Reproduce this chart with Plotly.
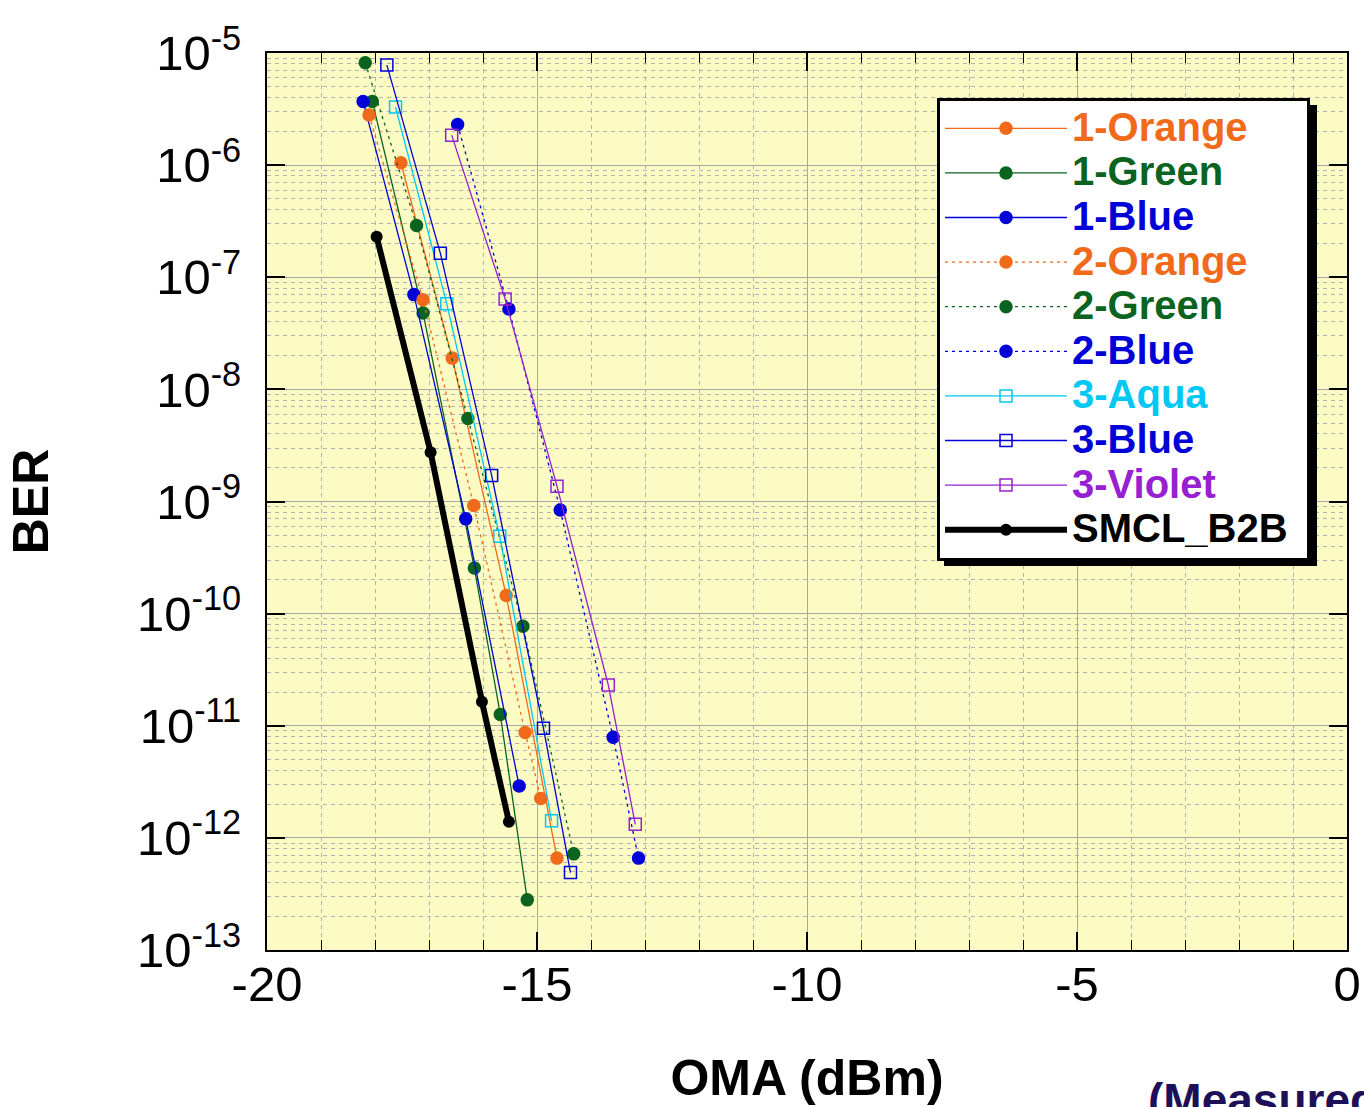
import plotly.graph_objects as go

# ---------------- data ----------------
orange1_x = [-17.52, -16.57, -15.57, -14.63]
orange1_y = [1.05e-6, 1.9e-8, 1.45e-10, 6.6e-13]
green1_x = [-18.05, -17.11, -16.16, -15.68, -15.18]
green1_y = [3.7e-6, 4.8e-8, 2.55e-10, 1.26e-11, 2.8e-13]
blue1_x = [-18.22, -17.28, -16.32, -15.33]
blue1_y = [3.7e-6, 7.0e-8, 7.0e-10, 2.9e-12]
orange2_x = [-18.11, -17.11, -16.17, -15.22, -14.93]
orange2_y = [2.8e-6, 6.3e-8, 9.2e-10, 8.7e-12, 2.25e-12]
green2_x = [-18.18, -17.23, -16.28, -15.26, -14.32]
green2_y = [8.2e-6, 2.9e-7, 5.5e-9, 7.7e-11, 7.2e-13]
blue2_x = [-16.47, -15.52, -14.57, -13.59, -13.12]
blue2_y = [2.3e-6, 5.2e-8, 8.4e-10, 7.9e-12, 6.6e-13]
aqua3_x = [-17.62, -16.67, -15.69, -14.73]
aqua3_y = [3.3e-6, 5.8e-8, 4.9e-10, 1.42e-12]
blue3_x = [-17.78, -16.79, -15.84, -14.88, -14.38]
blue3_y = [7.8e-6, 1.64e-7, 1.71e-9, 9.5e-12, 4.9e-13]
violet3_x = [-16.58, -15.59, -14.63, -13.68, -13.18]
violet3_y = [1.85e-6, 6.4e-8, 1.37e-9, 2.31e-11, 1.32e-12]
b2b_x = [-17.97, -16.97, -16.02, -15.52]
b2b_y = [2.3e-7, 2.75e-9, 1.64e-11, 1.39e-12]

y_tickvals = [1e-13, 1e-12, 1e-11, 1e-10, 1e-9, 1e-8, 1e-7, 1e-6, 1e-5]
y_ticktext = ["10<sup>-13</sup>", "10<sup>-12</sup>", "10<sup>-11</sup>", "10<sup>-10</sup>",
              "10<sup>-9</sup>", "10<sup>-8</sup>", "10<sup>-7</sup>", "10<sup>-6</sup>",
              "10<sup>-5</sup>"]
x_tickvals = [-20, -15, -10, -5, 0]
x_ticktext = ["-20", "-15", "-10", "-5", "0"]

ORANGE = "#F06A1A"
GREEN = "#0A6420"
BLUE = "#0000D8"
AQUA = "#00C8F5"
VIOLET = "#9620D2"
BLACK = "#000000"
FONT = "Liberation Sans, Arial, sans-serif"

series = [
    ("1-Orange", orange1_x, orange1_y, ORANGE, "solid", "circle"),
    ("1-Green", green1_x, green1_y, GREEN, "solid", "circle"),
    ("1-Blue", blue1_x, blue1_y, BLUE, "solid", "circle"),
    ("2-Orange", orange2_x, orange2_y, ORANGE, "3px,4px", "circle"),
    ("2-Green", green2_x, green2_y, GREEN, "3px,4px", "circle"),
    ("2-Blue", blue2_x, blue2_y, BLUE, "3px,4px", "circle"),
    ("3-Aqua", aqua3_x, aqua3_y, AQUA, "solid", "square-open"),
    ("3-Blue", blue3_x, blue3_y, BLUE, "solid", "square-open"),
    ("3-Violet", violet3_x, violet3_y, VIOLET, "solid", "square-open"),
]

LEG_TXT = 40  # displayed legend text size

fig = go.Figure()
for name, xs, ys, col, dash, sym in series:
    fig.add_trace(go.Scatter(
        x=xs, y=ys, mode="lines+markers",
        name=f"<span style='color:{col};font-size:{LEG_TXT}px'>{name}</span>",
        line=dict(color=col, width=1.3, dash=dash),
        marker=dict(symbol=sym, size=12, color=col, line=dict(width=1.5, color=col)),
    ))
fig.add_trace(go.Scatter(
    x=b2b_x, y=b2b_y, mode="lines+markers",
    name=(f"<span style='color:black;font-size:{LEG_TXT}px'>SMCL_B2B</span>"
          "<span style='font-size:50px'>&nbsp;</span>"),
    line=dict(color=BLACK, width=6),
    marker=dict(symbol="circle", size=12, color=BLACK),
))

L, R, T, B = 267, 17, 53, 157
W, H = 1364, 1107
pw, ph = W - L - R, H - T - B

def px_x(p):
    return (p - L) / pw

def px_y(p):
    return (H - B - p) / ph

# legend drop shadow
fig.add_shape(type="rect", xref="paper", yref="paper",
              x0=px_x(944), x1=px_x(1317), y0=px_y(566), y1=px_y(105),
              fillcolor="black", line=dict(width=0), layer="above")

fig.add_annotation(text="<b>(Measured)</b>", xref="paper", yref="paper",
                   x=px_x(1146), y=px_y(1072), xanchor="left", yanchor="top",
                   showarrow=False, font=dict(family=FONT, size=46, color="#1E1058"))

axis_common = dict(
    showline=True, linecolor="black", linewidth=2, mirror="ticks",
    ticks="inside", ticklen=18, tickwidth=1.5, tickcolor="black",
    showgrid=True, gridcolor="#A8A8A8", gridwidth=1.3, zeroline=False,
    tickfont=dict(family=FONT, size=49, color="black"),
)

fig.update_xaxes(
    **axis_common, range=[-20, 0], tickmode="array",
    tickvals=x_tickvals, ticktext=x_ticktext, ticklabelstandoff=-10,
    minor=dict(dtick=1, tick0=-20, showgrid=True, griddash="4px,4px", gridcolor="#B2B2B2",
               gridwidth=1, ticks="inside", ticklen=10, tickwidth=1.3, tickcolor="black"),
    title=dict(text="<b>OMA (dBm)</b>", font=dict(family=FONT, size=50, color="black"),
               standoff=50),
)
fig.update_yaxes(
    **axis_common, type="log", range=[-13, -5], tickmode="array",
    tickvals=y_tickvals, ticktext=y_ticktext, ticklabelstandoff=14,
    minor=dict(dtick="D1", showgrid=True, griddash="4px,4px", gridcolor="#B2B2B2",
               gridwidth=1, ticks=""),
    title=dict(text="<b>BER</b>", font=dict(family=FONT, size=50, color="black"),
               standoff=73),
)

fig.update_layout(
    width=W, height=H,
    margin=dict(l=L, r=R, t=T, b=B, autoexpand=False),
    paper_bgcolor="white", plot_bgcolor="#FBFBC3",
    font=dict(family=FONT, color="black"),
    legend=dict(x=px_x(937), y=px_y(98), xanchor="left", yanchor="top",
                bgcolor="white", bordercolor="black", borderwidth=3,
                font=dict(family=FONT, size=32, weight="bold", color="black"),
                tracegroupgap=0, itemwidth=122),
    showlegend=True,
)

fig.write_html("out.html", config={"displayModeBar": False},
               post_script="document.body.style.margin='0';document.body.style.overflow='hidden';")
